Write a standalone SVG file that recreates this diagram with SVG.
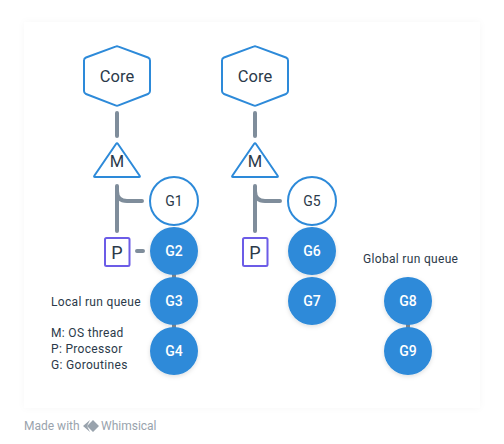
<svg xmlns="http://www.w3.org/2000/svg" width="504" height="444" viewBox="0 0 504 444">
<style>
text{font-family:"Roboto","Liberation Sans",sans-serif;fill:#2b3a4a;text-anchor:middle;dominant-baseline:central}
.hex,.tri,.open{fill:#fff;stroke:#2d8ad9;stroke-width:2;stroke-linejoin:round}
.fill{fill:#2d8ad9;filter:url(#sh)}
.fill+text{fill:#fff;font-weight:500}
.box{fill:#fff;stroke:#6c5ce7;stroke-width:2}
.c{fill:none;stroke:#7f8d9b;stroke-width:4;stroke-linecap:round}
.big{font-size:16.500px}.p{font-size:18px}.g{font-size:14px}.l{font-size:12px;text-anchor:start;letter-spacing:.32px}
.f{font-size:12px;fill:#99a3ad;text-anchor:start}
</style>
<defs><filter id="sh" x="-20%" y="-20%" width="140%" height="150%"><feDropShadow dx="0" dy="1.5" stdDeviation="2" flood-color="#000" flood-opacity=".13"/></filter>
<filter id="card" x="-5%" y="-5%" width="110%" height="110%"><feDropShadow dx="0" dy="0" stdDeviation="3" flood-color="#000" flood-opacity=".03"/></filter></defs>
<rect width="504" height="444" fill="#fff"/>
<rect x="24" y="22" width="456" height="386" fill="#fff" filter="url(#card)"/>
<g id="connectors">
<path class="c" d="M117 113V136M117 186V231M117 191Q117 201 127 201H142M137 251H143M174 273V280M174 323V329"/>
<path class="c" d="M255 113V136M255 186V231M255 191Q255 201 265 201H280M408 323V329"/>
</g>
<g id="core1"><path class="hex" d="M115.500 46.600Q117 46 118.500 46.600L148 57.500Q150 58.300 150 60.500V91Q150 93.200 148 94L118.500 105.400Q117 106 115.500 105.400L86 94Q84 93.200 84 91V60.500Q84 58.300 86 57.500Z"/><text class="big" x="117" y="76">Core</text></g>
<g id="core2"><path class="hex" d="M253.500 46.600Q255 46 256.500 46.600L286 57.500Q288 58.300 288 60.500V91Q288 93.200 286 94L256.500 105.400Q255 106 253.500 105.400L224 94Q222 93.200 222 91V60.500Q222 58.300 224 57.500Z"/><text class="big" x="255" y="76">Core</text></g>
<g id="m1"><path class="tri" d="M116 144Q117 142.600 118 144L139.500 175.500Q140.500 177 139 177H95Q93.500 177 94.500 175.500Z"/><text class="big" x="117" y="161">M</text></g>
<g id="m2"><path class="tri" d="M254 144Q255 142.600 256 144L277.500 175.500Q278.500 177 277 177H233Q231.500 177 232.500 175.500Z"/><text class="big" x="255" y="161">M</text></g>
<g id="p1"><rect class="box" x="105" y="238" width="24.500" height="28" rx="1.500"/><text class="p" x="117" y="252">P</text></g>
<g id="p2"><rect class="box" x="243" y="238" width="24.500" height="28" rx="1.500"/><text class="p" x="255" y="252">P</text></g>
<g id="g1"><circle class="open" cx="174" cy="201" r="24"/><text class="g" x="174" y="201">G1</text></g>
<g id="g2"><circle class="fill" cx="174" cy="251" r="24"/><text class="g" x="174" y="251">G2</text></g>
<g id="g3"><circle class="fill" cx="174" cy="301" r="24"/><text class="g" x="174" y="301">G3</text></g>
<g id="g4"><circle class="fill" cx="174" cy="351" r="24"/><text class="g" x="174" y="351">G4</text></g>
<g id="g5"><circle class="open" cx="312" cy="201" r="24"/><text class="g" x="312" y="201">G5</text></g>
<g id="g6"><circle class="fill" cx="312" cy="251" r="24"/><text class="g" x="312" y="251">G6</text></g>
<g id="g7"><circle class="fill" cx="312" cy="301" r="24"/><text class="g" x="312" y="301">G7</text></g>
<g id="g8"><circle class="fill" cx="408" cy="301" r="24"/><text class="g" x="408" y="301">G8</text></g>
<g id="g9"><circle class="fill" cx="408" cy="351" r="24"/><text class="g" x="408" y="351">G9</text></g>
<g id="labels">
<text class="l" x="51" y="301.500">Local run queue</text>
<text class="l" x="51" y="333">M: OS thread</text>
<text class="l" x="51" y="349">P: Processor</text>
<text class="l" x="51" y="365">G: Goroutines</text>
<text class="l" x="363" y="258.500">Global run queue</text>
</g>
<g id="footer">
<text class="f" x="24" y="426">Made with</text>
<path d="M90 420L83 426L90 432L87 426ZM93 420L99 426L93 432L87 426Z" fill="#99a3ad"/>
<text class="f" x="101" y="426">Whimsical</text>
</g>
</svg>
